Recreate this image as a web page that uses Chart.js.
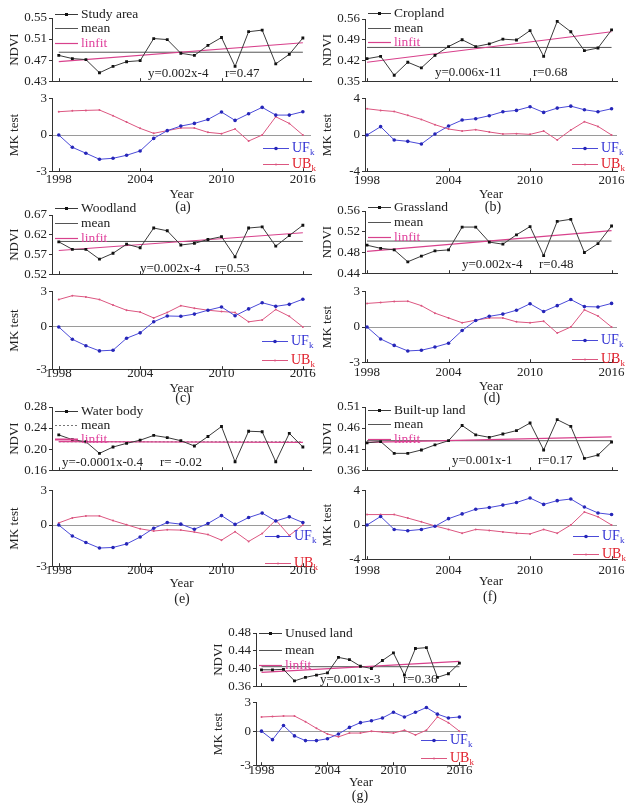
<!DOCTYPE html>
<html>
<head>
<meta charset="utf-8">
<script src="https://cdn.jsdelivr.net/npm/chart.js@4.4.0/dist/chart.umd.min.js"></script>
<style>
  body { margin: 0; background: #fff; width: 629px; height: 803px; position: relative; overflow: hidden; }
  .cap { position: absolute; font: 14px "Liberation Serif", serif; color: #222; transform: translate(-50%, -50%); white-space: nowrap; }
</style>
</head>
<body>
<script>
// ---- data ----
const years = [1998, 1999, 2000, 2001, 2002, 2003, 2004, 2005, 2006, 2007, 2008, 2009, 2010, 2011, 2012, 2013, 2014, 2015, 2016];
const xTickYears = [1998, 2004, 2010, 2016];
const panelNames = ['Study area', 'Cropland', 'Woodland', 'Grassland', 'Water body', 'Built-up land', 'Unused land'];
const panelCaptions = ['(a)', '(b)', '(c)', '(d)', '(e)', '(f)', '(g)'];

const ndviStudyArea = [0.479, 0.473, 0.471, 0.446, 0.458, 0.467, 0.469, 0.511, 0.509, 0.483, 0.479, 0.498, 0.513, 0.458, 0.524, 0.527, 0.463, 0.481, 0.512];
const ndviCropland  = [0.426, 0.434, 0.370, 0.414, 0.395, 0.437, 0.467, 0.490, 0.467, 0.476, 0.492, 0.489, 0.521, 0.434, 0.552, 0.517, 0.453, 0.462, 0.523];
const ndviWoodland  = [0.602, 0.583, 0.583, 0.558, 0.573, 0.596, 0.587, 0.637, 0.630, 0.594, 0.598, 0.608, 0.615, 0.564, 0.637, 0.640, 0.591, 0.618, 0.644];
const ndviGrassland = [0.494, 0.488, 0.485, 0.462, 0.473, 0.483, 0.485, 0.529, 0.529, 0.500, 0.496, 0.514, 0.530, 0.474, 0.540, 0.544, 0.480, 0.497, 0.531];
const ndviWater     = [0.227, 0.218, 0.214, 0.192, 0.204, 0.211, 0.217, 0.226, 0.222, 0.216, 0.206, 0.224, 0.243, 0.176, 0.234, 0.233, 0.176, 0.230, 0.204];
const ndviBuiltUp   = [0.425, 0.428, 0.400, 0.400, 0.408, 0.420, 0.430, 0.466, 0.444, 0.438, 0.446, 0.454, 0.472, 0.408, 0.480, 0.464, 0.388, 0.396, 0.427];
const ndviUnused    = [0.397, 0.397, 0.398, 0.372, 0.380, 0.385, 0.390, 0.425, 0.420, 0.405, 0.400, 0.418, 0.435, 0.385, 0.445, 0.447, 0.380, 0.388, 0.412];

const ufStudyArea = [0, -1.02, -1.51, -2.01, -1.93, -1.68, -1.32, -0.28, 0.36, 0.74, 0.96, 1.29, 1.90, 1.21, 1.76, 2.29, 1.65, 1.65, 1.93];
const ubStudyArea = [1.93, 2.00, 2.04, 2.07, 1.60, 1.07, 0.55, 0.14, 0.36, 0.58, 0.58, 0.22, 0.11, 0.50, -0.50, 0, 1.51, 0.96, 0];
const ufCropland  = [0, 0.92, -0.55, -0.70, -0.99, 0.11, 0.99, 1.65, 1.80, 2.13, 2.57, 2.72, 3.12, 2.50, 2.97, 3.19, 2.79, 2.57, 2.90];
const ubCropland  = [2.90, 2.72, 2.60, 2.17, 1.72, 1.14, 0.66, 0.44, 0.59, 0.33, 0.11, 0.15, 0.07, 0.44, -0.55, 0.55, 1.47, 0.95, 0];
const ufWoodland  = [0, -1.05, -1.60, -2.04, -1.98, -0.96, -0.50, 0.44, 0.94, 0.91, 1.10, 1.43, 1.71, 0.96, 1.54, 2.07, 1.76, 1.93, 2.37];
const ubWoodland  = [2.34, 2.67, 2.56, 2.34, 1.87, 1.43, 1.27, 0.77, 1.24, 1.82, 1.60, 1.43, 1.32, 1.24, 0.44, 0.60, 1.49, 0.91, 0];
const ufGrassland = [0, -1.02, -1.57, -2.04, -1.98, -1.71, -1.38, -0.30, 0.55, 0.91, 1.10, 1.43, 1.98, 1.32, 1.82, 2.34, 1.74, 1.71, 2.01];
const ubGrassland = [2.01, 2.09, 2.18, 2.20, 1.82, 1.18, 0.77, 0.36, 0.58, 0.77, 0.77, 0.44, 0.36, 0.50, -0.52, 0, 1.46, 0.94, 0];
const ufWater     = [0, -0.96, -1.52, -2.01, -1.96, -1.65, -1.05, -0.28, 0.22, 0.08, -0.36, 0.14, 0.83, 0.06, 0.66, 1.05, 0.36, 0.72, 0.22];
const ubWater     = [0.19, 0.63, 0.80, 0.80, 0.39, 0.03, -0.33, -0.52, -0.41, -0.44, -0.61, -0.83, -1.32, -0.58, -1.43, -0.74, 0.44, -0.91, 0];
const ufBuiltUp   = [0, 1.00, -0.52, -0.67, -0.52, -0.15, 0.74, 1.30, 1.85, 2.04, 2.33, 2.63, 3.15, 2.41, 2.85, 3.04, 2.10, 1.41, 1.22];
const ubBuiltUp   = [1.22, 1.22, 1.22, 0.81, 0.37, -0.11, -0.52, -0.96, -0.52, -0.63, -0.81, -0.96, -1.04, -0.52, -0.96, 0, 1.52, 0.96, 0];
const ufUnused    = [0, -0.90, 0.60, -0.50, -1.00, -1.00, -0.80, -0.30, 0.40, 0.90, 1.10, 1.40, 2.00, 1.50, 2.00, 2.50, 1.80, 1.40, 1.50];
const ubUnused    = [1.50, 1.55, 1.60, 1.60, 1.00, 0.30, -0.30, -0.60, -0.20, -0.20, 0, -0.10, -0.20, 0.10, -0.40, 0.10, 1.50, 0.90, 0];

const ndviMean    = [0.485, 0.464, 0.603, 0.502, 0.214, 0.430, 0.404];
const linfitStart = [0.467, 0.414, 0.580, 0.482, 0.2144, 0.426, 0.391];
const linfitEnd   = [0.503, 0.517, 0.625, 0.522, 0.2128, 0.439, 0.416];
const fitEquations = ['y=0.002x-4', 'y=0.006x-11', 'y=0.002x-4', 'y=0.002x-4', 'y=-0.0001x-0.4', 'y=0.001x-1', 'y=0.001x-3'];
const fitR = ['r=0.47', 'r=0.68', 'r=0.53', 'r=0.48', 'r= -0.02', 'r=0.17', 'r=0.36'];

const ndviTicks = [[0.43, 0.47, 0.51, 0.55], [0.35, 0.42, 0.49, 0.56], [0.52, 0.57, 0.62, 0.67], [0.44, 0.48, 0.52, 0.56],
                   [0.16, 0.20, 0.24, 0.28], [0.36, 0.41, 0.46, 0.51], [0.36, 0.40, 0.44, 0.48]];
const mkTicks = [[-3, 0, 3], [-4, 0, 4], [-3.6, 0, 3], [-3, 0, 3], [-3.6, 0, 3], [-4, 0, 4], [-3.6, 0, 3]];
const mkTickLabels = [['-3', '0', '3'], ['-4', '0', '4'], ['-3', '0', '3'], ['-3', '0', '3'], ['-3', '0', '3'], ['-4', '0', '4'], ['-3', '0', '3']];

const ndviSeries = [ndviStudyArea, ndviCropland, ndviWoodland, ndviGrassland, ndviWater, ndviBuiltUp, ndviUnused];
const ufSeries = [ufStudyArea, ufCropland, ufWoodland, ufGrassland, ufWater, ufBuiltUp, ufUnused];
const ubSeries = [ubStudyArea, ubCropland, ubWoodland, ubGrassland, ubWater, ubBuiltUp, ubUnused];

// ---- page layout (pixels) ----
const layout = [
  {l: 52,  r: 311, nT: 18,  nB: 89,  mT: 97,  mB: 171, xMin: 1997.5,  xMax: 2016.6, leg: [-4, 10, 25], eq: [96, 173, -8],  mkLeg: [-48, 13, 29], lab: 8.6, yr: 23, cap: [183, 207]},
  {l: 365, r: 617, nT: 19,  nB: 89,  mT: 97,  mB: 171, xMin: 1997.85, xMax: 2016.4, leg: [-6, 9, 23],  eq: [70, 168, -9],  mkLeg: [-45, 13, 29], lab: 9,   yr: 23, cap: [493, 207]},
  {l: 52,  r: 311, nT: 215, nB: 282, mT: 290, mB: 369, xMin: 1997.5,  xMax: 2016.6, leg: [-7, 8, 23],  eq: [88, 163, -6],  mkLeg: [-49, 14, 33], lab: 4,   yr: 19, cap: [183, 398]},
  {l: 365, r: 617, nT: 211, nB: 281, mT: 290, mB: 362, xMin: 1997.85, xMax: 2016.4, leg: [-4, 11, 26], eq: [97, 174, -9],  mkLeg: [-45, 13, 32], lab: 10.5, yr: 24, cap: [492, 398]},
  {l: 52,  r: 311, nT: 407, nB: 478, mT: 489, mB: 566, xMin: 1997.5,  xMax: 2016.6, leg: [4, 18, 32],  eq: [10, 108, -8],  mkLeg: [-46, 11, 38], lab: 4,   yr: 17, cap: [182, 599]},
  {l: 365, r: 617, nT: 407, nB: 478, mT: 489, mB: 559, xMin: 1997.85, xMax: 2016.4, leg: [3, 17, 32],  eq: [87, 173, -10], mkLeg: [-44, 11, 29], lab: 11,  yr: 22, cap: [490, 597]},
  {l: 256, r: 466, nT: 633, nB: 694, mT: 701, mB: 765, xMin: 1997.5,  xMax: 2016.6, leg: [0, 17, 32],  eq: [64, 147, -7],  mkLeg: [-45, 9, 27],  lab: 5,   yr: 17, cap: [360, 796]}
];

const FONT = '"Liberation Serif", "Times New Roman", serif';
const AXIS = '#333';
const PINK = '#d8418c';
const BLUE_LINE = '#4a4ad8';
const BLUE_PT = '#2626b8';
const RED_LINE = '#dc5680';
const Ly = 45;

Chart.defaults.font.family = FONT;
Chart.defaults.font.size = 13;
Chart.defaults.color = '#222';

function addCanvas(l, t, w, h) {
  const c = document.createElement('canvas');
  c.width = Math.round(w); c.height = Math.round(h);
  c.style.cssText = `position:absolute;left:${Math.round(l)}px;top:${Math.round(t)}px;`;
  document.body.appendChild(c);
  return c;
}

function addCaption(text, x, y) {
  const d = document.createElement('div');
  d.className = 'cap';
  d.style.left = x + 'px'; d.style.top = y + 'px';
  d.textContent = text;
  document.body.appendChild(d);
}

function anchorX(a, it) { return (it.ax === 'right' ? a.right : a.left) + it.dx; }
function anchorY(chart, a, it) {
  if (it.ay === 'zero') return chart.scales.y.getPixelForValue(0) + it.dy;
  return (it.ay === 'bottom' ? a.bottom : a.top) + it.dy;
}

// legend samples, fit text and inward year ticks
function makeDeco(items, texts) {
  return {
    id: 'deco',
    afterDatasetsDraw(chart) {
      const {ctx, chartArea: a, scales: {x}} = chart;
      ctx.save();
      ctx.strokeStyle = AXIS; ctx.lineWidth = 1;
      xTickYears.forEach(v => {
        const px = Math.round(x.getPixelForValue(v)) + 0.5;
        ctx.beginPath(); ctx.moveTo(px, a.bottom); ctx.lineTo(px, a.bottom - 3); ctx.stroke();
      });
      items.forEach(it => {
        const x0 = anchorX(a, it), y = Math.round(anchorY(chart, a, it)) + 0.5;
        ctx.strokeStyle = it.color; ctx.lineWidth = it.width || 1;
        ctx.setLineDash(it.dash || []);
        ctx.beginPath(); ctx.moveTo(x0, y); ctx.lineTo(x0 + it.len, y); ctx.stroke();
        ctx.setLineDash([]);
        if (it.marker) {
          ctx.fillStyle = it.marker;
          const mx = x0 + it.len / 2;
          if (it.square) ctx.fillRect(mx - 1.5, y - 1.5, 3, 3);
          else { ctx.beginPath(); ctx.arc(mx, y, it.mr || 1.8, 0, Math.PI * 2); ctx.fill(); }
        }
        ctx.fillStyle = it.textColor || '#222';
        ctx.font = (it.size || 13.5) + 'px ' + FONT;
        ctx.textBaseline = 'middle'; ctx.textAlign = 'left';
        const tx = x0 + it.len + 3;
        ctx.fillText(it.text, tx, y);
        if (it.sub) {
          const w = ctx.measureText(it.text).width;
          ctx.font = '9px ' + FONT;
          ctx.fillText(it.sub, tx + w, y + 4);
        }
      });
      texts.forEach(t => {
        ctx.fillStyle = '#222';
        ctx.font = '13px ' + FONT;
        ctx.textBaseline = 'middle'; ctx.textAlign = 'left';
        ctx.fillText(t.text, anchorX(a, t), anchorY(chart, a, t));
      });
      ctx.restore();
    }
  };
}

function xScale(g, showLabels, labPad, axisH) {
  return {
    type: 'linear', min: g.xMin, max: g.xMax,
    afterBuildTicks: s => { s.ticks = xTickYears.map(v => ({value: v})); },
    afterFit: s => { s.height = axisH; },
    ticks: {display: showLabels, padding: labPad, font: {size: 13, lineHeight: 1.2}, color: '#222', callback: v => String(v)},
    grid: {drawOnChartArea: false, drawTicks: false},
    border: {display: true, color: AXIS, width: 1},
    title: {display: showLabels, text: 'Year', padding: 0, font: {size: 13, lineHeight: 1.2}, color: '#222'}
  };
}

function yScale(values, labels, title, zeroLine) {
  return {
    type: 'linear', min: values[0], max: values[values.length - 1],
    afterBuildTicks: s => { s.ticks = values.map(v => ({value: v})); },
    afterFit: s => { s.width = Ly; },
    ticks: {padding: 2, font: {size: 13, lineHeight: 1.2}, color: '#222', callback: (v, i) => labels[i]},
    grid: {
      drawOnChartArea: zeroLine, tickLength: 3, tickColor: AXIS,
      color: c => (zeroLine && c.tick && c.tick.value === 0) ? '#9a9a9a' : 'rgba(0,0,0,0)'
    },
    border: {display: true, color: AXIS, width: 1},
    title: {display: true, text: title, padding: 0, font: {size: 13, lineHeight: 1.2}, color: '#222'}
  };
}

function pts(vals) { return years.map((y, i) => ({x: y, y: vals[i]})); }
function ends(a, b) { return [{x: years[0], y: a}, {x: years[years.length - 1], y: b}]; }

function drawPanel(i) {
  const g = layout[i];
  const pw = g.r - g.l;
  const isWater = i === 4;

  // NDVI chart
  const padT = 16, padR = 8, hx = 2;
  const c1 = addCanvas(g.l - Ly, g.nT - padT, pw + Ly + padR, (g.nB - g.nT) + padT + hx);
  const ndviTickLabels = ndviTicks[i].map(v => v.toFixed(2));
  new Chart(c1, {
    type: 'line',
    data: {
      datasets: [
        {data: pts(ndviSeries[i]), borderColor: '#3a3a3a', borderWidth: 1, pointStyle: 'rect', pointRadius: 2,
         pointBackgroundColor: '#111', pointBorderWidth: 0, tension: 0},
        {data: ends(linfitStart[i], linfitEnd[i]), borderColor: PINK, borderWidth: 1.2, pointRadius: 0},
        {data: ends(ndviMean[i], ndviMean[i]), borderColor: isWater ? '#777' : '#555', borderWidth: 1,
         borderDash: isWater ? [2, 2] : [], pointRadius: 0}
      ]
    },
    options: {
      responsive: false, animation: false, devicePixelRatio: 1, events: [],
      layout: {padding: {top: padT, right: padR, left: 0, bottom: 0}},
      plugins: {legend: {display: false}, tooltip: {enabled: false}},
      scales: {x: xScale(g, false, 0, hx), y: yScale(ndviTicks[i], ndviTickLabels, 'NDVI', false)}
    },
    plugins: [makeDeco([
      {ax: 'left', dx: 3, ay: 'top', dy: g.leg[0], len: 23, color: '#3a3a3a', marker: '#111', square: true, text: panelNames[i]},
      {ax: 'left', dx: 3, ay: 'top', dy: g.leg[1], len: 23, color: isWater ? '#777' : '#555', dash: isWater ? [2, 2] : null, text: 'mean'},
      {ax: 'left', dx: 3, ay: 'top', dy: g.leg[2], len: 23, color: PINK, width: isWater ? 2 : 1.2, text: 'linfit', textColor: '#e0409c'}
    ], [
      {ax: 'left', dx: g.eq[0], ay: 'bottom', dy: g.eq[2], text: fitEquations[i]},
      {ax: 'left', dx: g.eq[1], ay: 'bottom', dy: g.eq[2], text: fitR[i]}
    ])]
  });

  // MK test chart
  const padT2 = 8, padR2 = 24;
  const axisH = g.yr + 7.8;
  const c2 = addCanvas(g.l - Ly, g.mT - padT2, pw + Ly + padR2, (g.mB - g.mT) + padT2 + axisH);
  new Chart(c2, {
    type: 'line',
    data: {
      datasets: [
        {data: pts(ufSeries[i]), borderColor: BLUE_LINE, borderWidth: 1, pointRadius: 1.8, pointBackgroundColor: BLUE_PT,
         pointBorderWidth: 0, tension: 0},
        {data: pts(ubSeries[i]), borderColor: RED_LINE, borderWidth: 1, pointRadius: 1, pointBackgroundColor: RED_LINE,
         pointBorderWidth: 0, tension: 0}
      ]
    },
    options: {
      responsive: false, animation: false, devicePixelRatio: 1, events: [],
      layout: {padding: {top: padT2, right: padR2, left: 0, bottom: 0}},
      plugins: {legend: {display: false}, tooltip: {enabled: false}},
      scales: {x: xScale(g, true, g.lab - 7.8, axisH), y: yScale(mkTicks[i], mkTickLabels[i], 'MK test', true)}
    },
    plugins: [makeDeco([
      {ax: 'right', dx: g.mkLeg[0], ay: 'zero', dy: g.mkLeg[1], len: 26, color: BLUE_LINE, marker: BLUE_PT, mr: 1.8, text: 'UF', sub: 'k', textColor: '#3434d4', size: 14},
      {ax: 'right', dx: g.mkLeg[0], ay: 'zero', dy: g.mkLeg[2], len: 26, color: RED_LINE, marker: RED_LINE, mr: 1, text: 'UB', sub: 'k', textColor: '#e0202c', size: 14}
    ], [])]
  });

  addCaption(panelCaptions[i], g.cap[0], g.cap[1]);
}

for (let i = 0; i < layout.length; i++) drawPanel(i);
</script>
</body>
</html>
